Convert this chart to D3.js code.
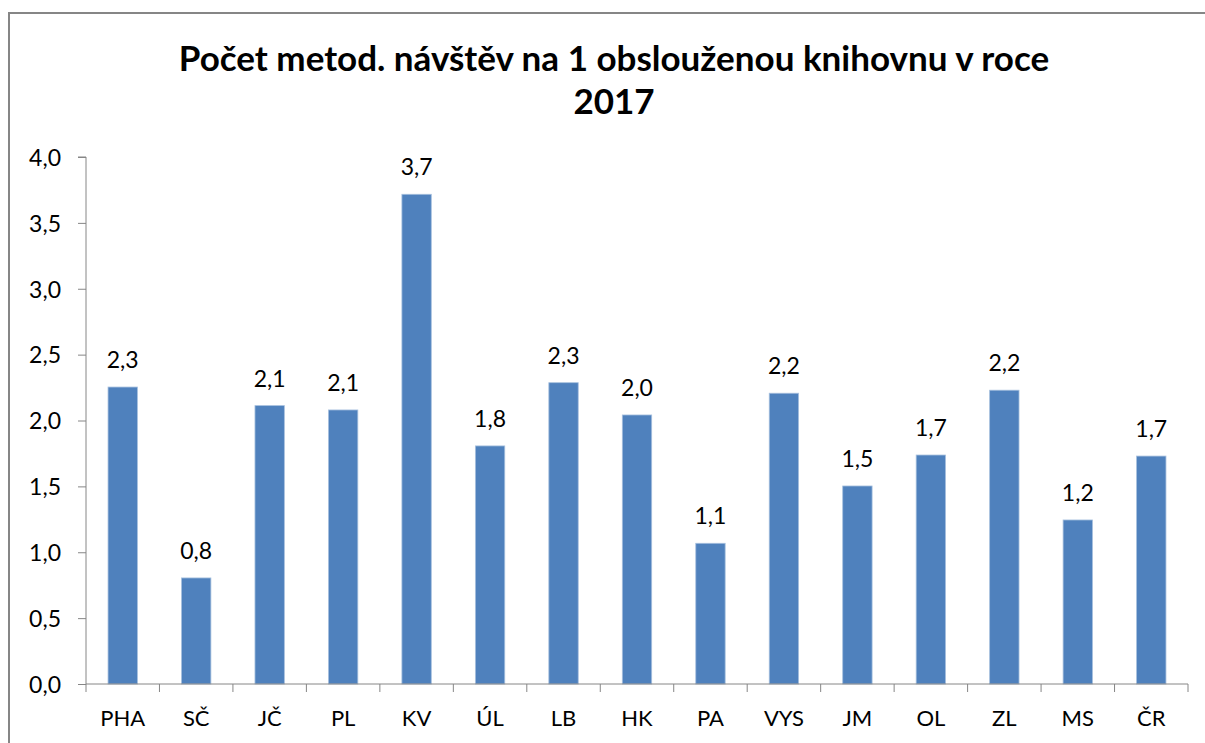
<!DOCTYPE html>
<html lang="cs">
    <head>
        <meta charset="utf-8">
        <title>Počet metod. návštěv</title>
        <script type="text/javascript" src="https://cdn.jsdelivr.net/npm/d3@7"></script>
        <style type="text/css">
body {
    margin: 0;
    background-color: #ffffff;
}
svg text {
    font-family: Lato, "Open Sans", sans-serif;
    fill: #000000;
}
        </style>
    </head>
    <body>
        <script type="text/javascript">
var width=1205;     // page size
var height=743;

// data
var regions=["PHA","SČ","JČ","PL","KV","ÚL","LB","HK","PA","VYS","JM","OL","ZL","MS","ČR"];
var visits=[2.254,0.805,2.113,2.08,3.717,1.807,2.287,2.042,1.068,2.207,1.503,1.738,2.23,1.245,1.73];
var yTicks=[0,0.5,1,1.5,2,2.5,3,3.5,4];
var titleLines=["Počet metod. návštěv na 1 obslouženou knihovnu v roce","2017"];

var plotLeft=86, plotRight=1188, plotTop=157, plotBottom=684;   // plot area
var axisColor="#868686";
var barColor="#4f81bd";

var svg=d3.select("body").append("svg")
    .attr("width",width).attr("height",height);

// chart frame
svg.append("rect")
    .attr("x",9).attr("y",13).attr("width",1210).attr("height",760)
    .attr("fill","none").attr("stroke",axisColor).attr("stroke-width",2);

var comma=function(v) { return d3.format(".1f")(v).replace(".",","); };

var x=d3.scaleBand().domain(regions).range([plotLeft,plotRight]).paddingInner(0.6).paddingOuter(0.3);
var y=d3.scaleLinear().domain([0,4]).range([plotBottom,plotTop]);

// title
svg.append("text")
    .attr("text-anchor","middle")
    .style("font-weight","bold").style("font-size","35px")
    .selectAll("tspan").data(titleLines).enter().append("tspan")
    .attr("x",614).attr("y",function(d,i) { return 71+i*43; })
    .text(function(d) { return d; });

// y axis
var yAxis=svg.append("g").attr("transform","translate("+plotLeft+",0)")
    .call(d3.axisLeft(y).tickValues(yTicks).tickFormat(comma).tickSize(8).tickPadding(17));
yAxis.select(".domain").attr("stroke",axisColor).attr("d","M-8,"+plotTop+"H0V"+plotBottom);
yAxis.selectAll(".tick line").attr("stroke",axisColor);
yAxis.selectAll(".tick text").style("font-size","23px").attr("dy","0.36em");

// bars
svg.selectAll(".bar").data(visits).enter().append("rect")
    .attr("class","bar")
    .attr("x",function(d,i) { return x(regions[i]); })
    .attr("y",function(d) { return y(d); })
    .attr("width",x.bandwidth())
    .attr("height",function(d) { return plotBottom-y(d); })
    .attr("fill",barColor).attr("stroke","#a7c0de").attr("stroke-width",0.8);

// value labels
svg.selectAll(".label").data(visits).enter().append("text")
    .attr("class","label")
    .attr("x",function(d,i) { return x(regions[i])+x.bandwidth()/2; })
    .attr("y",function(d) { return y(d)-19; })
    .attr("text-anchor","middle")
    .style("font-size","23px")
    .text(comma);

// x axis, ticks at category borders
var step=x.step();
var xAxis=svg.append("g").attr("transform","translate(0,"+plotBottom+")");
xAxis.append("line").attr("x1",plotLeft).attr("x2",plotRight).attr("stroke",axisColor);
xAxis.selectAll(".xtick").data(d3.range(regions.length+1)).enter().append("line")
    .attr("x1",function(i) { return plotLeft+i*step; })
    .attr("x2",function(i) { return plotLeft+i*step; })
    .attr("y1",0).attr("y2",8).attr("stroke",axisColor);
xAxis.selectAll(".xlabel").data(regions).enter().append("text")
    .attr("x",function(d) { return x(d)+x.bandwidth()/2; })
    .attr("y",42).attr("text-anchor","middle")
    .style("font-size","22px")
    .text(function(d) { return d; });
        </script>
    </body>
</html>
